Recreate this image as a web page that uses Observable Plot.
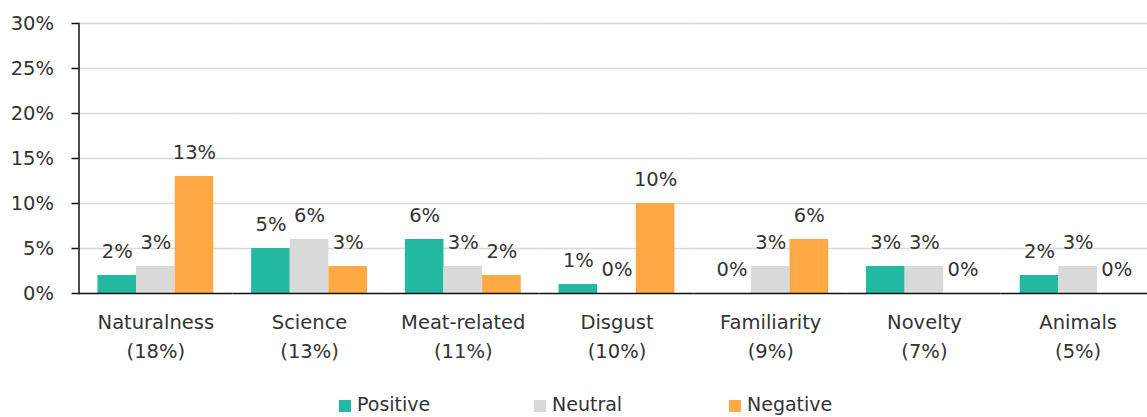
<!DOCTYPE html>
<html>
<head>
<meta charset="utf-8">
<script src="https://cdn.jsdelivr.net/npm/d3@7"></script>
<script src="https://cdn.jsdelivr.net/npm/@observablehq/plot@0.6"></script>
<style>
  html, body { margin: 0; padding: 0; background: #fff; }
  #chart { width: 1147px; }
  .legend {
    display: flex; align-items: center;
    height: 37px; padding-left: 339px; padding-top: 10px; box-sizing: border-box;
    font-family: "DejaVu Sans", sans-serif; font-size: 19px; color: #333;
  }
  .legend .item { display: flex; align-items: center; gap: 6px; width: 195px; }
  .legend .swatch { width: 12px; height: 12px; display: inline-block; margin-top: 4px; }
</style>
</head>
<body>
<div id="chart"></div>
<script>
// Attitude themes and their share of all mentions
const categories = ["Naturalness", "Science", "Meat-related", "Disgust", "Familiarity", "Novelty", "Animals"];
const categoryShares = [18, 13, 11, 10, 9, 7, 5];

// Sentiment series (percent of mentions)
const series = ["Positive", "Neutral", "Negative"];
const positive = [2, 5, 6, 1, 0, 3, 2];
const neutral  = [3, 6, 3, 0, 3, 3, 3];
const negative = [13, 3, 2, 10, 6, 0, 0];
const seriesColors = ["#23b9a1", "#d9d9d9", "#ffa944"];

const yTicks = [0, 5, 10, 15, 20, 25, 30];

const values = {Positive: positive, Neutral: neutral, Negative: negative};
const rows = categories.flatMap((category, i) =>
  series.map(s => ({category, series: s, value: values[s][i]}))
);

const textColor = "#333";

const chart = Plot.plot({
  width: 1147,
  height: 380,
  marginLeft: 78,
  marginRight: 0,
  marginTop: 23,
  marginBottom: 87,
  style: {fontFamily: "DejaVu Sans, sans-serif", fontSize: "19.5px", color: textColor, background: "#fff"},
  fx: {domain: categories, range: [78.5, 1154.5], padding: 0, round: false, label: null},
  x: {domain: series, paddingInner: 0, paddingOuter: 0.49, round: false, axis: null},
  y: {domain: [0, 30], label: null},
  color: {domain: series, range: seriesColors},
  marks: [
    // horizontal gridlines
    Plot.ruleY(yTicks.slice(1), {stroke: "#d9d9d9", strokeWidth: 1.5}),
    // grouped bars
    Plot.barY(rows, {fx: "category", x: "series", y: "value", fill: "series"}),
    // value labels above each bar
    Plot.text(rows, {
      fx: "category", x: "series", y: "value",
      text: d => `${d.value}%`,
      lineAnchor: "middle", dy: -24,
      fill: textColor, fontSize: 19.5
    }),
    // baseline
    Plot.ruleY([0], {stroke: "#111", strokeWidth: 1.5}),
    // vertical axis line on the leftmost group only
    Plot.frame({anchor: "left", facetAnchor: "left", stroke: "#111", strokeWidth: 1.5}),
    Plot.axisY({
      ticks: yTicks, tickFormat: d => `${d}%`,
      tickSize: 7, tickPadding: 18, stroke: "#111", strokeWidth: 1.5,
      label: null, fontSize: 19.5
    }),
    Plot.axisFx({
      anchor: "bottom", tickSize: 0, tickPadding: 15,
      tickFormat: d => `${d}\n(${categoryShares[categories.indexOf(d)]}%)`,
      lineAnchor: "top", lineHeight: 1.49, fontSize: 19.5, label: null
    })
  ]
});

document.getElementById("chart").append(chart);

// legend below the chart
const legend = document.createElement("div");
legend.className = "legend";
series.forEach((s, i) => {
  const item = document.createElement("span");
  item.className = "item";
  const sw = document.createElement("span");
  sw.className = "swatch";
  sw.style.background = seriesColors[i];
  const label = document.createElement("span");
  label.textContent = s;
  item.append(sw, label);
  legend.append(item);
});
document.getElementById("chart").append(legend);
</script>
</body>
</html>
